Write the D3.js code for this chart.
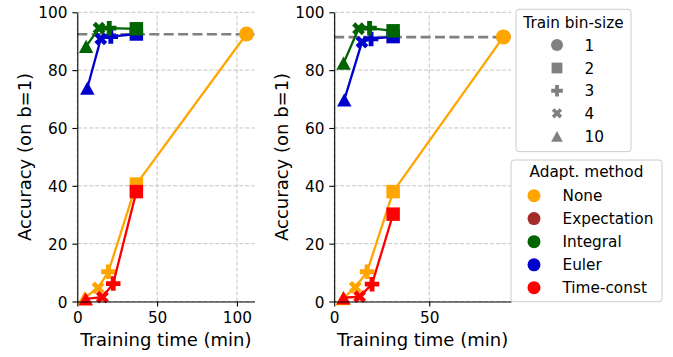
<!DOCTYPE html>
<html><head><meta charset="utf-8">
<script src="https://cdn.jsdelivr.net/npm/d3@7"></script>
<style>body{margin:0;background:#fff}svg{display:block;font-family:"DejaVu Sans",sans-serif}</style>
</head><body><svg id="chart" width="673" height="357"></svg>
<script>
// ---------- data ----------
const binSizes = [1, 2, 3, 4, 10];
const binSymbols = ["circle", "square", "plus", "x", "triangle"];
const methods = ["None", "Expectation", "Integral", "Euler", "Time-const"];
const methodColors = ["#FFA500", "#A52A2A", "#006400", "#0000CD", "#FF0000"];
const drawOrder = ["None", "Expectation", "Euler", "Integral", "Time-const"];
const xTicksA = [0, 50, 100];
const xTicksB = [0, 50];
const yTicks = [0, 20, 40, 60, 80, 100];
const xLabel = "Training time (min)";
const yLabel = "Accuracy (on b=1)";

// panel A (left): training time per bin size [1,2,3,4,10]
const timeA_None        = [106, 37, 19.5, 13, 4.5];
const accA_None         = [92.5, 40.6, 10.3, 4.7, 1.2];
const timeA_Expectation = [null, null, null, null, null];
const accA_Expectation  = [null, null, null, null, null];
const timeA_Integral    = [null, 37, 20, 13.6, 5.5];
const accA_Integral     = [null, 94.3, 94.5, 94.5, 88.2];
const timeA_Euler       = [null, 37, 21, 14.7, 6.3];
const accA_Euler        = [null, 92.5, 91.6, 90.8, 73.8];
const timeA_TimeConst   = [null, 37, 22.5, 15.7, 5.3];
const accA_TimeConst    = [null, 38, 6.2, 1.5, 0.9];
const refA = 92.4;

// panel B (right)
const timeB_None        = [89, 31, 17.3, 11.1, 4.5];
const accB_None         = [91.5, 38, 10.3, 4.9, 1.0];
const timeB_Expectation = [null, null, null, null, null];
const accB_Expectation  = [null, null, null, null, null];
const timeB_Integral    = [null, 31, 18.6, 12.8, 4.9];
const accB_Integral     = [null, 93.6, 94.5, 94.3, 82.4];
const timeB_Euler       = [null, 31, 19.4, 14.6, 5.3];
const accB_Euler        = [null, 91.6, 90.8, 89.7, 69.7];
const timeB_TimeConst   = [null, 31, 19.9, 13.4, 4.9];
const accB_TimeConst    = [null, 30.2, 6, 1.7, 1.3];
const refB = 91.4;

const seriesA = {
  "None": [timeA_None, accA_None], "Expectation": [timeA_Expectation, accA_Expectation],
  "Integral": [timeA_Integral, accA_Integral], "Euler": [timeA_Euler, accA_Euler],
  "Time-const": [timeA_TimeConst, accA_TimeConst]
};
const seriesB = {
  "None": [timeB_None, accB_None], "Expectation": [timeB_Expectation, accB_Expectation],
  "Integral": [timeB_Integral, accB_Integral], "Euler": [timeB_Euler, accB_Euler],
  "Time-const": [timeB_TimeConst, accB_TimeConst]
};

// ---------- markers ----------
function markerPath(type, m) {
  const h = m / 2;
  if (type === "circle") { const p = d3.path(); p.arc(0, 0, h, 0, 2 * Math.PI); p.closePath(); return p.toString(); }
  if (type === "square") { const s = h * 0.93; return `M${-s},${-s}H${s}V${s}H${-s}Z`; }
  if (type === "triangle") { const w = h, t = h * 0.92; return `M0,${-t}L${w},${t}L${-w},${t}Z`; }
  let pts;
  if (type === "plus") {
    pts = [[-1,-3],[1,-3],[1,-1],[3,-1],[3,1],[1,1],[1,3],[-1,3],[-1,1],[-3,1],[-3,-1],[-1,-1]].map(([a,b]) => [a/6*m, b/6*m]);
  } else {
    pts = [[-1,-2],[0,-1],[1,-2],[2,-1],[1,0],[2,1],[1,2],[0,1],[-1,2],[-2,1],[-1,0],[-2,-1]].map(([a,b]) => [a/4*m*0.95, b/4*m*0.95]);
  }
  return "M" + pts.map(p => p.join(",")).join("L") + "Z";
}
const markerSize = {circle: 15, square: 14.5, plus: 14.5, x: 13.5, triangle: 14.5};

// ---------- layout ----------
const svg = d3.select("#chart");
const yTop = 12.3, yBot = 301.5;
const panels = [
  {left: 77.3, right: 254.5, xmax: 111, ticks: xTicksA, series: seriesA, ref: refA},
  {left: 334.2, right: 511, xmax: 93, ticks: xTicksB, series: seriesB, ref: refB}
];
const TICK = 4.9, PAD = 4.9;

panels.forEach(P => {
  const x = d3.scaleLinear().domain([0, P.xmax]).range([P.left, P.right]);
  const y = d3.scaleLinear().domain([0, 100]).range([yBot, yTop]);
  const g = svg.append("g");

  // grid
  g.selectAll(".gx").data(P.ticks).join("line")
    .attr("x1", d => x(d)).attr("x2", d => x(d)).attr("y1", yBot).attr("y2", yTop)
    .attr("stroke", "#c4c4c4").attr("stroke-width", 1).attr("stroke-dasharray", "4,2");
  g.selectAll(".gy").data(yTicks).join("line")
    .attr("x1", P.left).attr("x2", P.right).attr("y1", d => y(d)).attr("y2", d => y(d))
    .attr("stroke", "#c4c4c4").attr("stroke-width", 1).attr("stroke-dasharray", "4,2");

  // reference line
  g.append("line").attr("x1", P.left).attr("x2", P.right).attr("y1", y(P.ref)).attr("y2", y(P.ref))
    .attr("stroke", "#808080").attr("stroke-width", 2.6).attr("stroke-dasharray", "10,4.4");

  // series
  drawOrder.forEach(name => {
    const mi = methods.indexOf(name);
    const [ts, as] = P.series[name];
    const pts = binSizes.map((b, i) => ({t: ts[i], a: as[i], sym: binSymbols[i]})).filter(d => d.t != null && d.a != null);
    if (!pts.length) return;
    const line = d3.line().x(d => x(d.t)).y(d => y(d.a));
    g.append("path").attr("d", line(pts)).attr("fill", "none")
      .attr("stroke", methodColors[mi]).attr("stroke-width", 2.3).attr("stroke-linejoin", "round");
    g.selectAll(null).data(pts).join("path")
      .attr("transform", d => `translate(${x(d.t)},${y(d.a)})`)
      .attr("d", d => markerPath(d.sym, markerSize[d.sym]))
      .attr("fill", methodColors[mi]);
  });

  // axes
  const xAxis = d3.axisBottom(x).tickValues(P.ticks).tickSize(TICK).tickPadding(PAD).tickSizeOuter(0);
  const yAxis = d3.axisLeft(y).tickValues(yTicks).tickSize(TICK).tickPadding(PAD).tickSizeOuter(0);
  const gx = svg.append("g").attr("transform", `translate(0,${yBot})`).call(xAxis);
  const gy = svg.append("g").attr("transform", `translate(${P.left},0)`).call(yAxis);
  [gx, gy].forEach(a => {
    a.select(".domain").attr("stroke", "#000").attr("stroke-width", 1.1);
    a.selectAll(".tick line").attr("stroke", "#000").attr("stroke-width", 1.1);
    a.selectAll(".tick text").attr("fill", "#000").attr("font-size", "15.3px").attr("font-family", "DejaVu Sans");
  });
  gx.selectAll(".tick text").attr("dy", null).attr("y", TICK + PAD).attr("dominant-baseline", "hanging");
  gy.selectAll(".tick text").attr("dy", "0.36em");

  // labels
  svg.append("text").attr("x", (P.left + P.right) / 2).attr("y", 345.5)
    .attr("text-anchor", "middle").attr("font-size", "18px").attr("fill", "#000").text(xLabel);
  svg.append("text").attr("transform", `translate(${P.left - 46.6},${(yTop + yBot) / 2}) rotate(-90)`)
    .attr("text-anchor", "middle").attr("font-size", "18px").attr("fill", "#000").text(yLabel);
});

// ---------- legends ----------
function legendBox(x0, y0, w, h) {
  svg.append("rect").attr("x", x0).attr("y", y0).attr("width", w).attr("height", h).attr("rx", 3)
    .attr("fill", "#fff").attr("fill-opacity", 0.8).attr("stroke", "#cccccc").attr("stroke-width", 1);
}
// Train bin-size
legendBox(516, 9.3, 115, 142.4);
svg.append("text").attr("x", 573.5).attr("y", 27.5).attr("text-anchor", "middle")
  .attr("font-size", "15.3px").attr("fill", "#000").text("Train bin-size");
const leg1Rows = [45, 68, 90.7, 113.3, 136.3];
binSizes.forEach((b, i) => {
  svg.append("path").attr("transform", `translate(557,${leg1Rows[i]})`)
    .attr("d", markerPath(binSymbols[i], markerSize[binSymbols[i]] * 0.8)).attr("fill", "#808080");
  svg.append("text").attr("x", 584.5).attr("y", leg1Rows[i] + 5.5)
    .attr("font-size", "15.3px").attr("fill", "#000").text(b);
});
// Adapt. method
legendBox(511, 160, 151, 141.7);
svg.append("text").attr("x", 586.5).attr("y", 176.8).attr("text-anchor", "middle")
  .attr("font-size", "15.3px").attr("fill", "#000").text("Adapt. method");
const leg2Rows = [195.7, 218.6, 241.7, 264.8, 287.7];
methods.forEach((m, i) => {
  svg.append("path").attr("transform", `translate(534,${leg2Rows[i]})`)
    .attr("d", markerPath("circle", 13)).attr("fill", methodColors[i]);
  svg.append("text").attr("x", 562.5).attr("y", leg2Rows[i] + 5.5)
    .attr("font-size", "15.3px").attr("fill", "#000").text(m);
});
</script></body></html>
